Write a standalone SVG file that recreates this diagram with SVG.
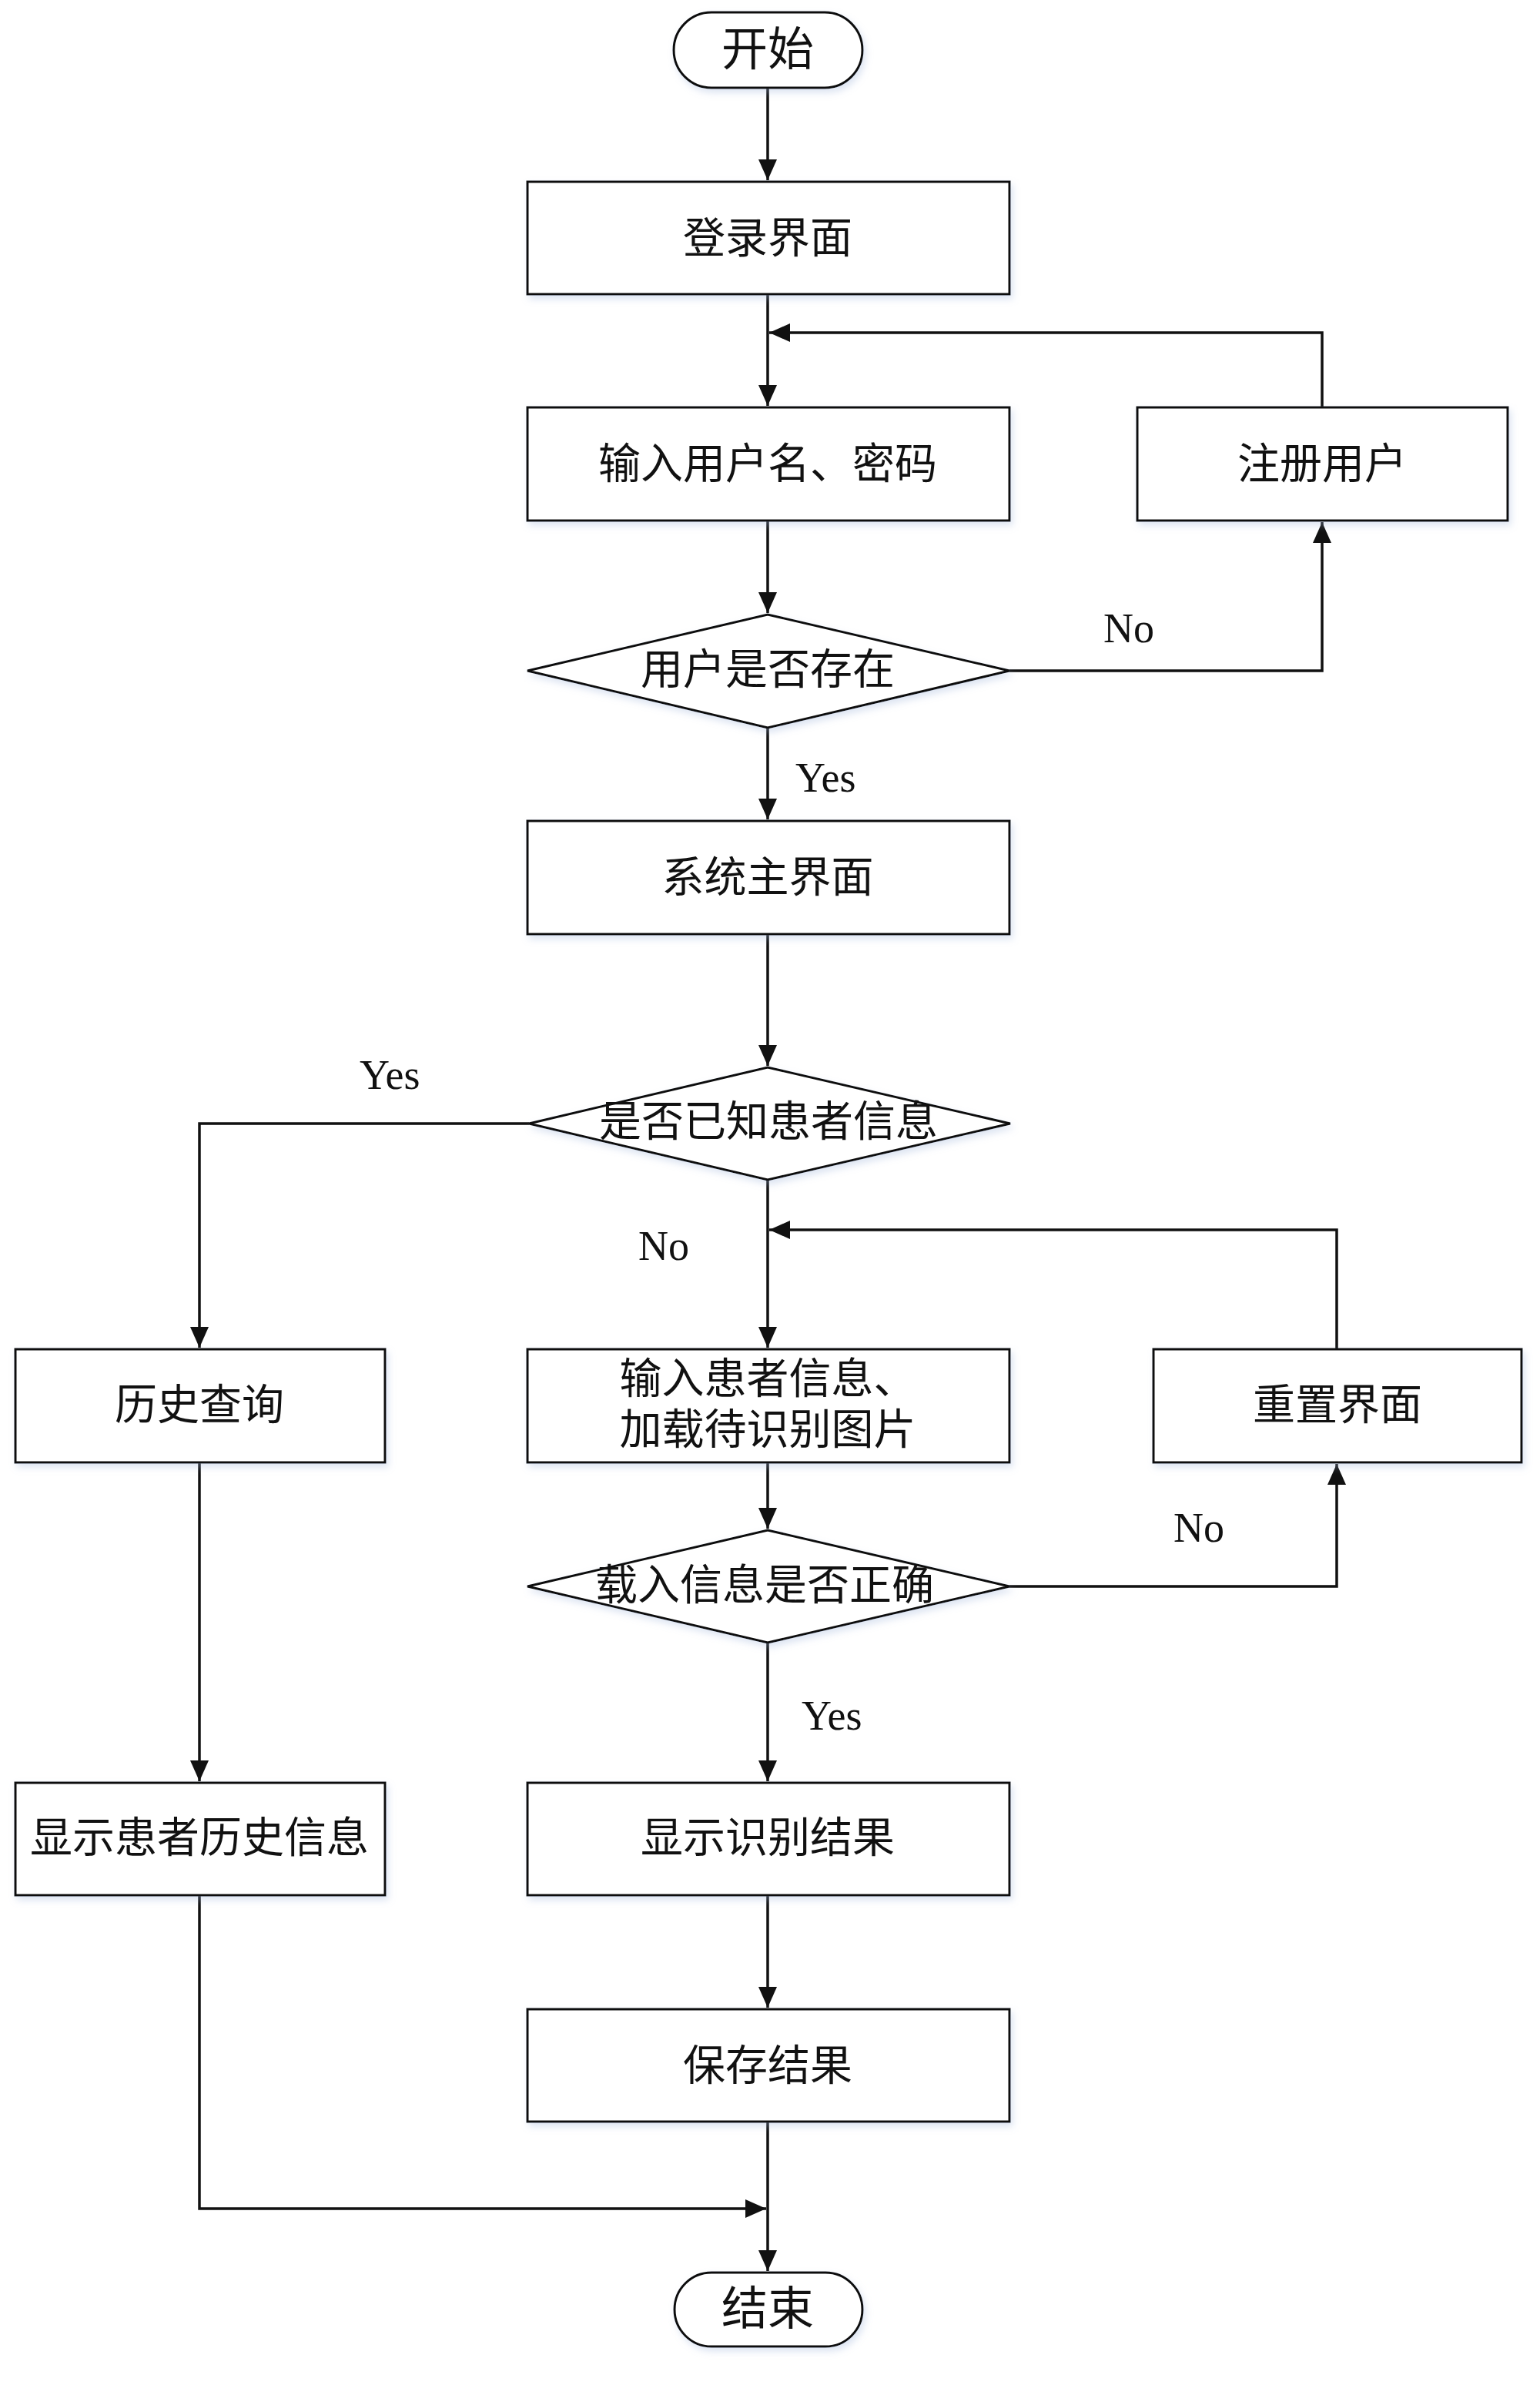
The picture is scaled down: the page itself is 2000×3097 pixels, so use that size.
<svg xmlns="http://www.w3.org/2000/svg" width="2000" height="3097" viewBox="0 0 2000 3097">
<style>
.shape{fill:#fff;stroke:#111;stroke-width:3;filter:url(#sh)}
.cn{font-family:"Liberation Serif","Noto Sans CJK SC",serif;font-size:55px;fill:#111;text-anchor:middle;dominant-baseline:central}
.lbl{font-family:"Liberation Serif",serif;font-size:54px;fill:#111}
.conn{fill:none;stroke:#111;stroke-width:3.5;marker-end:url(#arr)}
</style>
<defs>
<filter id="sh" x="-10%" y="-20%" width="120%" height="150%">
<feDropShadow dx="3" dy="5" stdDeviation="5" flood-color="#9db3d9" flood-opacity="0.35"/>
</filter>
<marker id="arr" viewBox="0 0 27 24" refX="27" refY="12" markerWidth="27" markerHeight="24" markerUnits="userSpaceOnUse" orient="auto">
<path d="M0,0 L27,12 L0,24 Z" fill="#111"/>
</marker>
</defs>
<rect width="2000" height="3097" fill="#fff"/>
<g id="connectors">
<path class="conn" d="M997,114 V234"/>
<path class="conn" d="M997,382 V527"/>
<path class="conn" d="M1717,529 V432 H999"/>
<path class="conn" d="M997,676 V796"/>
<path class="conn" d="M1311,871 H1717 V678"/>
<path class="conn" d="M997,945 V1064"/>
<path class="conn" d="M997,1213 V1384"/>
<path class="conn" d="M687,1459 H259 V1750"/>
<path class="conn" d="M997,1532 V1750"/>
<path class="conn" d="M1736,1752 V1597 H999"/>
<path class="conn" d="M997,1899 V1985"/>
<path class="conn" d="M1311,2060 H1736 V1901"/>
<path class="conn" d="M997,2133 V2313"/>
<path class="conn" d="M259,1899 V2313"/>
<path class="conn" d="M997,2461 V2607"/>
<path class="conn" d="M997,2755 V2949"/>
<path class="conn" d="M259,2461 V2868 H995"/>
<text class="lbl" x="1433" y="834">No</text>
<text class="lbl" x="1033" y="1028">Yes</text>
<text class="lbl" x="467" y="1414">Yes</text>
<text class="lbl" x="829" y="1636">No</text>
<text class="lbl" x="1524" y="2002">No</text>
<text class="lbl" x="1041" y="2246">Yes</text>
</g>
<g id="start"><rect class="shape" x="875" y="16" width="245" height="98" rx="49"/><text class="cn" x="997" y="65" style="font-size:60px">开始</text></g>
<g id="login"><rect class="shape" x="685" y="236" width="626" height="146"/><text class="cn" x="997" y="309">登录界面</text></g>
<g id="input-user"><rect class="shape" x="685" y="529" width="626" height="147"/><text class="cn" x="997" y="602">输入用户名、密码</text></g>
<g id="register"><rect class="shape" x="1477" y="529" width="481" height="147"/><text class="cn" x="1717" y="602">注册用户</text></g>
<g id="user-exists"><polygon class="shape" points="685,871 997,798 1311,871 997,945"/><text class="cn" x="997" y="869">用户是否存在</text></g>
<g id="main"><rect class="shape" x="685" y="1066" width="626" height="147"/><text class="cn" x="997" y="1139">系统主界面</text></g>
<g id="known"><polygon class="shape" points="687,1459 997,1386 1312,1459 997,1532"/><text class="cn" x="998" y="1456">是否已知患者信息</text></g>
<g id="history"><rect class="shape" x="20" y="1752" width="480" height="147"/><text class="cn" x="259" y="1824">历史查询</text></g>
<g id="input-patient"><rect class="shape" x="685" y="1752" width="626" height="147"/><text class="cn" x="997" y="1790">输入患者信息、</text><text class="cn" x="997" y="1856">加载待识别图片</text></g>
<g id="reset"><rect class="shape" x="1498" y="1752" width="478" height="147"/><text class="cn" x="1737" y="1824">重置界面</text></g>
<g id="correct"><polygon class="shape" points="685,2060 997,1987 1311,2060 997,2133"/><text class="cn" x="993" y="2058">载入信息是否正确</text></g>
<g id="show-history"><rect class="shape" x="20" y="2315" width="480" height="146"/><text class="cn" x="259" y="2386">显示患者历史信息</text></g>
<g id="show-result"><rect class="shape" x="685" y="2315" width="626" height="146"/><text class="cn" x="997" y="2386">显示识别结果</text></g>
<g id="save"><rect class="shape" x="685" y="2609" width="626" height="146"/><text class="cn" x="997" y="2682">保存结果</text></g>
<g id="end"><rect class="shape" x="876" y="2951" width="244" height="96" rx="48"/><text class="cn" x="997" y="2999" style="font-size:60px">结束</text></g>
</svg>
